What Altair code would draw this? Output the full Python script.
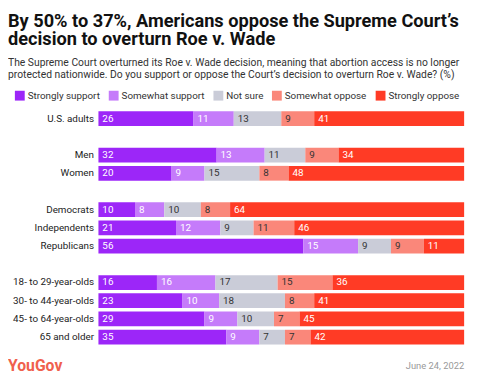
import altair as alt
import pandas as pd

groups = ["U.S. adults", "Men", "Women", "Democrats", "Independents", "Republicans",
          "18- to 29-year-olds", "30- to 44-year-olds", "45- to 64-year-olds", "65 and older"]
row_order = ["U.S. adults", "gap1", "Men", "Women", "gap2", "Democrats", "Independents",
             "Republicans", "gap3", "18- to 29-year-olds", "30- to 44-year-olds",
             "45- to 64-year-olds", "65 and older"]
responses = ["Strongly support", "Somewhat support", "Not sure", "Somewhat oppose", "Strongly oppose"]
strongly_support = [26, 32, 20, 10, 21, 56, 16, 23, 29, 35]
somewhat_support = [11, 13, 9, 8, 12, 15, 16, 10, 9, 9]
not_sure = [13, 11, 15, 10, 9, 9, 17, 18, 10, 7]
somewhat_oppose = [9, 9, 8, 8, 11, 9, 15, 8, 7, 7]
strongly_oppose = [41, 34, 48, 64, 46, 11, 36, 41, 45, 42]
colors = ["#9C26F8", "#C57BFA", "#CACCD8", "#FA877A", "#FF3B25"]
label_colors = ["#FFFFFF", "#FFFFFF", "#333333", "#333333", "#FFFFFF"]

series = [strongly_support, somewhat_support, not_sure, somewhat_oppose, strongly_oppose]
rows = []
for ri, (resp, vals) in enumerate(zip(responses, series)):
    for g, v in zip(groups, vals):
        rows.append({"group": g, "response": resp, "value": v, "order": ri,
                     "tcolor": label_colors[ri]})
df = pd.DataFrame(rows)

base = alt.Chart(df).transform_stack(
    stack="value", groupby=["group"], as_=["v0", "v1"], offset="normalize",
    sort=[alt.SortField("order", order="ascending")]
)

y_enc = alt.Y("group:N",
              scale=alt.Scale(domain=row_order, paddingInner=0.19, paddingOuter=0.1),
              axis=alt.Axis(title=None, domain=False, ticks=False, labelPadding=5,
                            labelFontSize=10, labelColor="#222222", labelFont="Roboto",
                            labelExpr="indexof(datum.value, 'gap') == 0 ? '' : datum.value"))

bars = base.mark_bar().encode(
    x=alt.X("v0:Q", scale=alt.Scale(domain=[0, 1]), axis=None),
    x2="v1:Q",
    y=y_enc,
    color=alt.Color("response:N", scale=alt.Scale(domain=responses, range=colors),
                    legend=alt.Legend(orient="none", legendX=-85, legendY=-19,
                                      direction="horizontal", columns=5, title=None,
                                      symbolType="square", symbolSize=100,
                                      symbolStrokeWidth=0, symbolOpacity=1,
                                      labelFontSize=10, labelFont="Roboto",
                                      labelColor="#333333", labelOffset=3,
                                      columnPadding=8.5, padding=0)),
)

labels = base.mark_text(align="left", baseline="middle", dx=4, fontSize=10,
                        font="Roboto").encode(
    x=alt.X("v0:Q", scale=alt.Scale(domain=[0, 1]), axis=None),
    y=y_enc,
    text="value:Q",
    color=alt.Color("tcolor:N", scale=None),
)

logo_df = pd.DataFrame({"label": ["YouGov"]})
date_df = pd.DataFrame({"label": ["June 24, 2022"]})

logo = alt.Chart(logo_df).mark_text(align="left", baseline="alphabetic", fontSize=16,
                                     fontWeight="bold", font="Roboto",
                                     color="#F0604D").encode(
    x=alt.value(-92), y=alt.value(266), text="label:N")
date = alt.Chart(date_df).mark_text(align="right", baseline="alphabetic", fontSize=9.5,
                                     font="Roboto", color="#999999").encode(
    x=alt.value(372), y=alt.value(264), text="label:N")

chart = alt.layer(bars, labels, logo, date).properties(
    width=372, height=241,
    autosize=alt.AutoSizeParams(type="none"),
    padding={"left": 92, "top": 100, "right": 8, "bottom": 28},
    title=alt.TitleParams(
        text=["By 50% to 37%, Americans oppose the Supreme Court\u2019s",
              "decision to overturn Roe v. Wade"],
        subtitle=["The Supreme Court overturned its Roe v. Wade decision, meaning that abortion access is no longer",
                  "protected nationwide. Do you support or oppose the Court\u2019s decision to overturn Roe v. Wade? (%)"],
        anchor="start", frame="group", dx=-92, offset=10.5,
        font="Roboto", fontSize=18.5, fontWeight="bold", color="#111111", lineHeight=18,
        subtitleFont="Roboto", subtitleFontSize=10.5, subtitleColor="#333333",
        subtitleLineHeight=12.5, subtitlePadding=9.5),
).configure_view(stroke=None)

chart.save("out.html", embed_options={"renderer": "svg", "actions": False})
